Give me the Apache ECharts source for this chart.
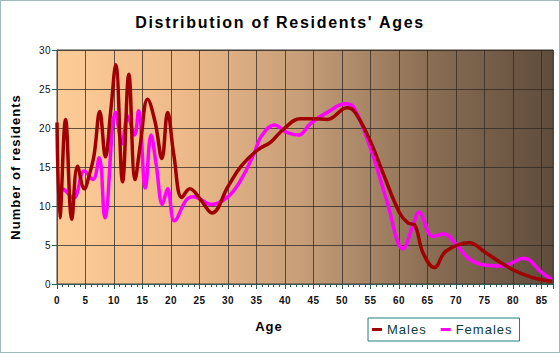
<!DOCTYPE html>
<html>
<head>
<meta charset="utf-8">
<script src="https://cdn.jsdelivr.net/npm/echarts@6/dist/echarts.min.js"></script>
<style>
  html, body { margin: 0; padding: 0; background: #ffffff; }
  #chart { width: 558px; height: 351px; border: 1px solid #9fbcbc; }
  #chart svg text { letter-spacing: 1px; }
  #chart svg text[style*="16px"] { letter-spacing: 1.7px; }
  #chart svg text[style*="10px"] { letter-spacing: 0.4px; }
</style>
</head>
<body>
<div id="chart"></div>
<script>
var titleText = "Distribution of Residents' Ages";
var xAxisTitle = "Age";
var yAxisTitle = "Number of residents";
var seriesNames = ["Males", "Females"];

var maleAges = [0, 0.5, 1.5, 2.6, 3.6, 4.8, 5.6, 6.5, 7.5, 8.5, 9.4, 10.3, 11.5, 12.6, 13.7, 14.6, 15.9, 17.2, 18.4, 19.4, 20.5, 21.9, 23.3, 25.2, 27.2, 30, 32.3, 35.2, 37.5, 39.8, 42.7, 45, 47.4, 50.9, 52.3, 54.9, 57.2, 60.1, 61.6, 62.7, 64.2, 66.2, 68.2, 72.3, 75.2, 79.8, 83.3, 86.8];
var maleValues = [20.7, 8.5, 21.1, 8.3, 15.1, 12.2, 13.8, 16.5, 22.1, 16.3, 22.0, 28.1, 13.1, 26.9, 13.4, 17.8, 23.7, 20.8, 16.1, 22.0, 16.5, 11.1, 12.2, 10.8, 9.1, 12.5, 15.1, 17.2, 18.2, 19.9, 21.2, 21.2, 21.1, 22.6, 22.0, 18.4, 14.2, 9.1, 7.8, 7.6, 4.0, 2.1, 4.2, 5.3, 4.0, 1.9, 0.85, 0.34];

var femaleAges = [0, 1, 2.9, 4.8, 6.3, 7.4, 8.4, 10.3, 11.4, 12.4, 13.6, 14.3, 15.5, 16.5, 17.4, 18.5, 19.4, 20.6, 22.7, 23.9, 27.1, 30, 32.3, 34.6, 35.8, 38.1, 40.4, 42.4, 44.5, 47.4, 50.6, 52, 54.9, 57.8, 60.7, 62.4, 63.5, 65.9, 67.9, 70, 72.3, 75.2, 78.1, 81.9, 85, 86.8];
var femaleValues = [12.3, 12.2, 11.0, 14.5, 13.4, 16.2, 8.5, 22.0, 18.0, 21.5, 19.1, 22.2, 12.3, 19.1, 15.3, 10.2, 12.2, 8.1, 10.8, 11.2, 10.2, 11.2, 13.4, 16.8, 18.9, 20.4, 19.4, 19.1, 20.6, 22.0, 23.1, 22.7, 17.6, 10.8, 4.5, 7.4, 9.2, 6.1, 6.4, 5.1, 3.2, 2.4, 2.3, 3.3, 1.5, 0.55];

function pairs(xs, ys) { return xs.map(function (x, i) { return [x, ys[i]]; }); }

var chart = echarts.init(document.getElementById('chart'), null, { renderer: 'svg' });
var fontFam = '"Liberation Sans", Arial, sans-serif';
chart.setOption({
  animation: false,
  backgroundColor: '#ffffff',
  title: {
    text: titleText, left: 'center', top: 13, padding: 0,
    textStyle: { fontFamily: fontFam, fontSize: 16, fontWeight: 'bold', color: '#000' }
  },
  legend: {
    data: seriesNames,
    left: 367, top: 317,
    padding: [5, 14, 5, 4],
    itemGap: 19,
    itemWidth: 10, itemHeight: 3,
    icon: 'rect',
    borderColor: '#1f7f7f', borderWidth: 1,
    textStyle: { fontFamily: fontFam, fontSize: 13, color: '#0b3b3b' }
  },
  grid: {
    left: 54, right: 6, top: 49, bottom: 68,
    show: true, borderWidth: 1, borderColor: '#4a4038',
    backgroundColor: {
      type: 'linear', x: 0, y: 0, x2: 1, y2: 0,
      colorStops: [
        { offset: 0, color: '#fdcc96' },
        { offset: 0.25, color: '#eeba8a' },
        { offset: 0.5, color: '#c59d78' },
        { offset: 0.75, color: '#8a6e54' },
        { offset: 1, color: '#5f4c3c' }
      ]
    }
  },
  xAxis: {
    type: 'value', min: 0, max: 87, interval: 5,
    axisLine: { show: true, onZero: false, lineStyle: { color: '#2d5a5a', width: 1 } },
    axisTick: { show: true, length: 5, lineStyle: { color: '#2d5a5a' } },
    minorTick: { show: true, splitNumber: 5, length: 3, lineStyle: { color: '#2d5a5a' } },
    splitLine: { show: true, lineStyle: { color: 'rgba(45,40,35,0.75)', width: 1 } },
    axisLabel: {
      fontFamily: fontFam, fontSize: 10, fontWeight: 'bold', color: '#111', margin: 11,
      showMaxLabel: false
    },
    name: xAxisTitle, nameLocation: 'middle', nameGap: 0,
    nameTextStyle: { fontFamily: fontFam, fontSize: 13, fontWeight: 'bold', color: '#000', padding: [36, 72, 0, 0] }
  },
  yAxis: {
    type: 'value', min: 0, max: 30, interval: 5,
    axisLine: { show: true, lineStyle: { color: '#2d5a5a', width: 1 } },
    axisTick: { show: true, length: 5, lineStyle: { color: '#2d5a5a' } },
    splitLine: { show: true, lineStyle: { color: 'rgba(45,40,35,0.75)', width: 1 } },
    axisLabel: { fontFamily: fontFam, fontSize: 10, color: '#111', margin: 6 },
    name: yAxisTitle, nameLocation: 'middle', nameGap: 35,
    nameTextStyle: { fontFamily: fontFam, fontSize: 13, fontWeight: 'bold', color: '#000' }
  },
  series: [
    {
      name: seriesNames[1], type: 'line', smooth: 0.4, showSymbol: false, symbol: 'none',
      data: pairs(femaleAges, femaleValues),
      itemStyle: { color: '#ff00ff' },
      lineStyle: { color: '#ff00ff', width: 3.5 }
    },
    {
      name: seriesNames[0], type: 'line', smooth: 0.4, showSymbol: false, symbol: 'none',
      data: pairs(maleAges, maleValues),
      itemStyle: { color: '#a00000' },
      lineStyle: { color: '#a00000', width: 3.5 }
    }
  ]
});
</script>
</body>
</html>
